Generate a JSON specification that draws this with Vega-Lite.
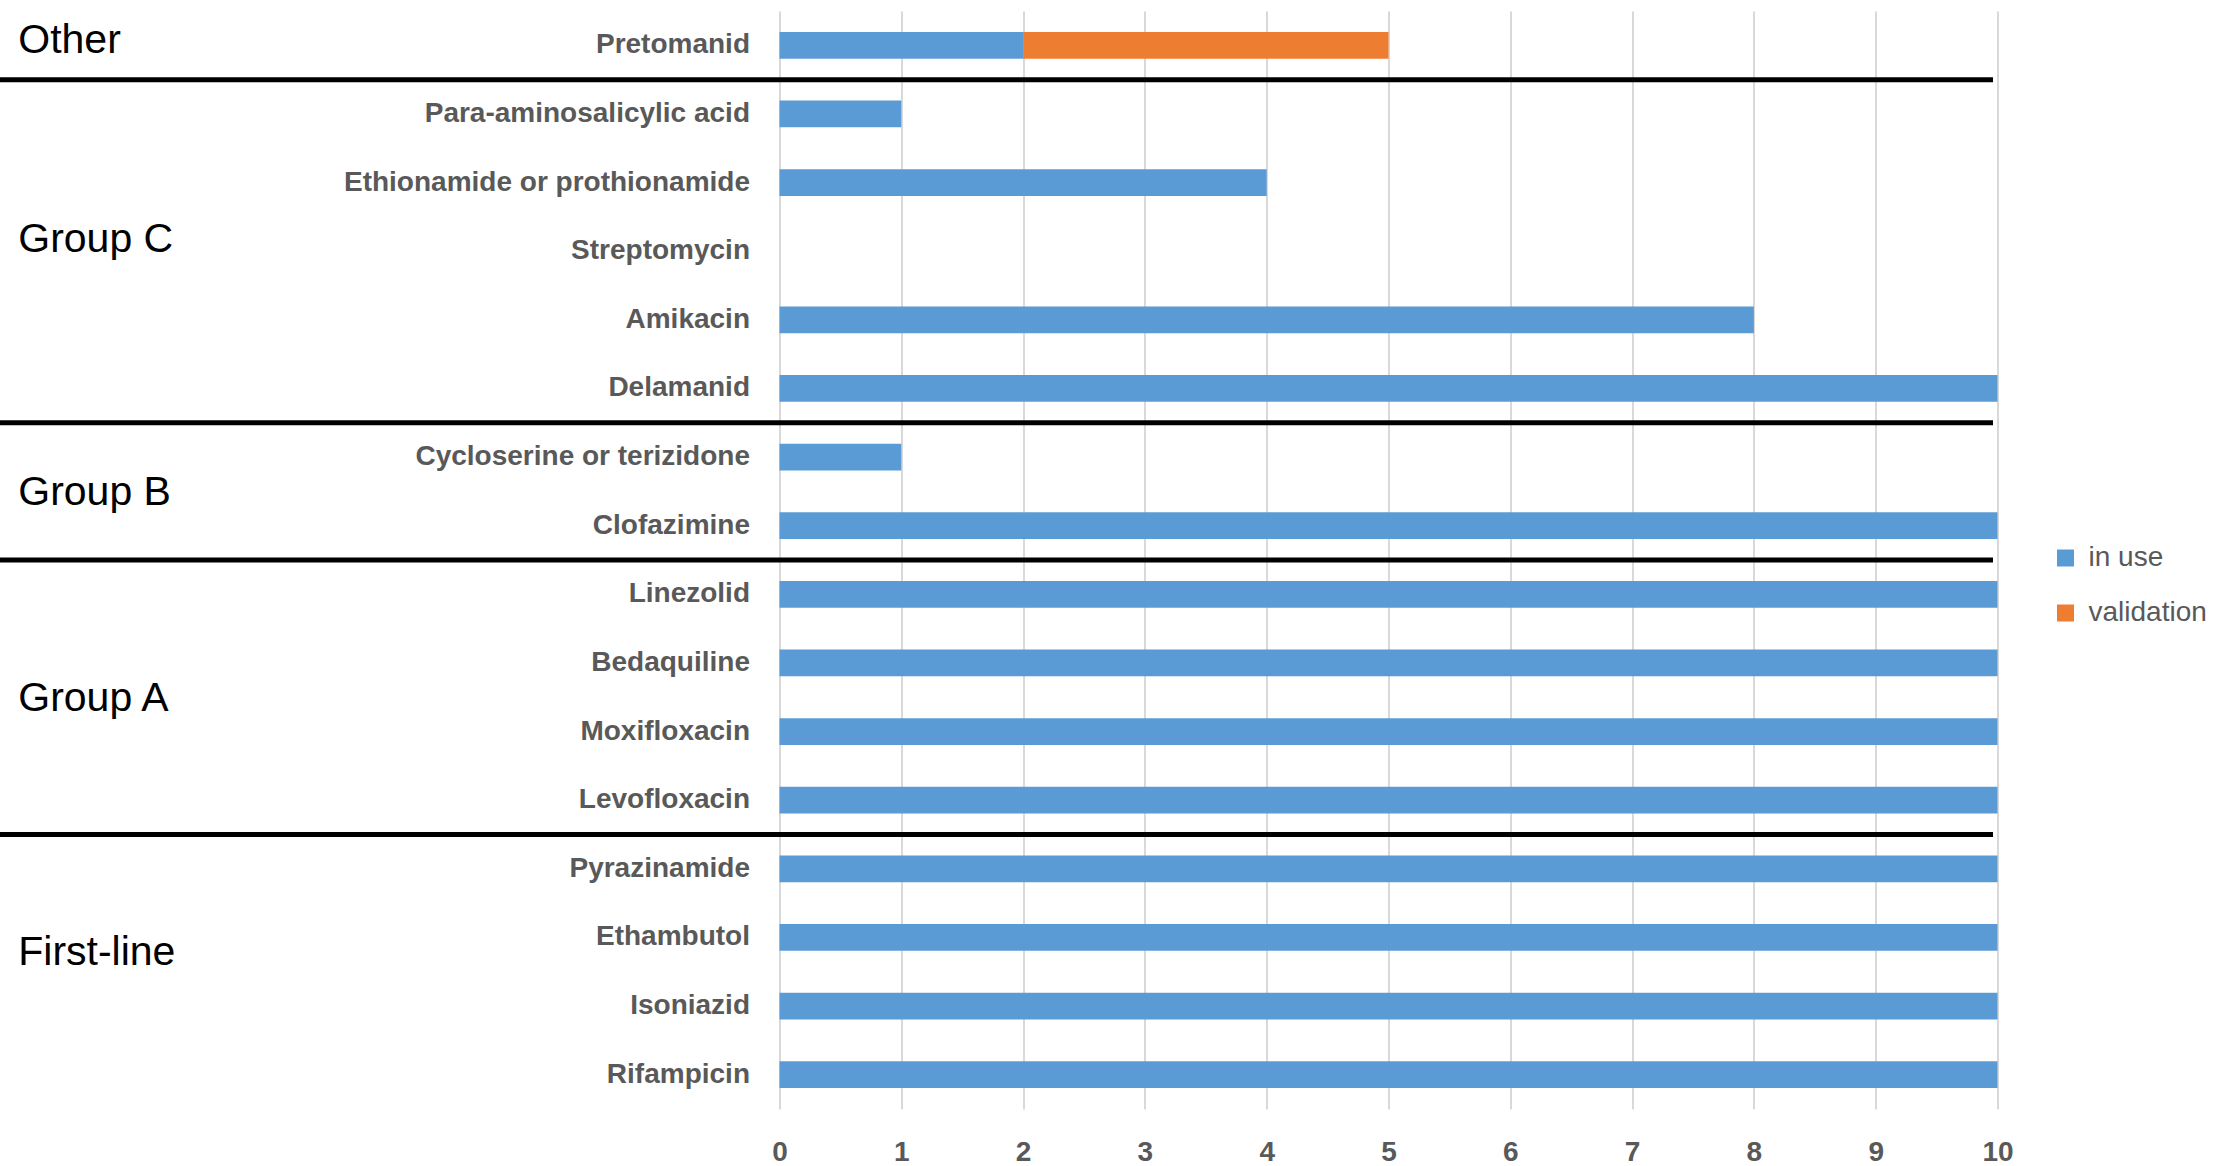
{
  "$schema": "https://vega.github.io/schema/vega-lite/v6.json",
  "width": 1218,
  "height": 1098,
  "autosize": {"type": "none"},
  "padding": {"left": 779.5, "top": 11, "right": 224.5, "bottom": 57},
  "background": "white",
  "config": {
    "view": {"stroke": null},
    "font": "Liberation Sans",
    "axisY": {"title": null, "domain": false, "ticks": false, "grid": false, "labelPadding": 30, "labelFontSize": 28, "labelFontWeight": "bold", "labelColor": "#595959", "labelLimit": 0},
    "axisX": {"title": null, "domain": false, "ticks": false, "grid": true, "gridColor": "#D9D9D9", "gridWidth": 2, "labelFontSize": 28, "labelFontWeight": "bold", "labelColor": "#595959", "labelPadding": 29, "labelFlush": false, "labelOverlap": false}
  },
  "datasets": {
    "bars": [
      {"drug": "Pretomanid", "status": "in use", "count": 2},
      {"drug": "Pretomanid", "status": "validation", "count": 3},
      {"drug": "Para-aminosalicylic acid", "status": "in use", "count": 1},
      {"drug": "Ethionamide or prothionamide", "status": "in use", "count": 4},
      {"drug": "Streptomycin", "status": "in use", "count": 0},
      {"drug": "Amikacin", "status": "in use", "count": 8},
      {"drug": "Delamanid", "status": "in use", "count": 10},
      {"drug": "Cycloserine or terizidone", "status": "in use", "count": 1},
      {"drug": "Clofazimine", "status": "in use", "count": 10},
      {"drug": "Linezolid", "status": "in use", "count": 10},
      {"drug": "Bedaquiline", "status": "in use", "count": 10},
      {"drug": "Moxifloxacin", "status": "in use", "count": 10},
      {"drug": "Levofloxacin", "status": "in use", "count": 10},
      {"drug": "Pyrazinamide", "status": "in use", "count": 10},
      {"drug": "Ethambutol", "status": "in use", "count": 10},
      {"drug": "Isoniazid", "status": "in use", "count": 10},
      {"drug": "Rifampicin", "status": "in use", "count": 10}
    ],
    "separators": [
      {"drug": "Para-aminosalicylic acid"},
      {"drug": "Cycloserine or terizidone"},
      {"drug": "Linezolid"},
      {"drug": "Pyrazinamide"}
    ],
    "groups": [
      {"group": "Other", "drug": "Pretomanid", "place": "a"},
      {"group": "Group C", "drug": "Streptomycin", "place": "b"},
      {"group": "Group B", "drug": "Clofazimine", "place": "c"},
      {"group": "Group A", "drug": "Moxifloxacin", "place": "c"},
      {"group": "First-line", "drug": "Ethambutol", "place": "d"}
    ]
  },
  "layer": [
    {
      "data": {"name": "bars"},
      "mark": {"type": "bar", "height": {"band": 0.39}},
      "encoding": {
        "y": {
          "field": "drug", "type": "nominal",
          "sort": ["Pretomanid","Para-aminosalicylic acid","Ethionamide or prothionamide","Streptomycin","Amikacin","Delamanid","Cycloserine or terizidone","Clofazimine","Linezolid","Bedaquiline","Moxifloxacin","Levofloxacin","Pyrazinamide","Ethambutol","Isoniazid","Rifampicin"],
          "scale": {"paddingInner": 0, "paddingOuter": 0},
          "title": null
        },
        "x": {
          "field": "count", "type": "quantitative", "stack": "zero",
          "scale": {"domain": [0, 10], "nice": false, "zero": false},
          "title": null,
          "axis": {"values": [0,1,2,3,4,5,6,7,8,9,10], "format": "d"}
        },
        "color": {
          "field": "status", "type": "nominal",
          "scale": {"domain": ["in use", "validation"], "range": ["#5B9BD5", "#ED7D31"]},
          "legend": {"title": null, "orient": "none", "legendX": 1272, "legendY": 533, "symbolType": "square", "symbolSize": 289, "symbolStrokeWidth": 0, "symbolOpacity": 1, "labelFontSize": 28, "labelColor": "#595959", "labelOffset": 9, "rowPadding": 27}
        }
      }
    },
    {
      "data": {"name": "separators"},
      "mark": {"type": "rule", "color": "black", "strokeWidth": 5, "clip": false},
      "encoding": {
        "y": {"field": "drug", "type": "nominal", "bandPosition": 0, "title": null, "sort": ["Pretomanid","Para-aminosalicylic acid","Ethionamide or prothionamide","Streptomycin","Amikacin","Delamanid","Cycloserine or terizidone","Clofazimine","Linezolid","Bedaquiline","Moxifloxacin","Levofloxacin","Pyrazinamide","Ethambutol","Isoniazid","Rifampicin"]},
        "x": {"datum": -6.4, "type": "quantitative", "title": null, "scale": {"domain": [0, 10], "nice": false, "zero": false}, "axis": {"values": [0,1,2,3,4,5,6,7,8,9,10], "format": "d"}},
        "x2": {"datum": 9.963}
      }
    },
    {
      "data": {"name": "groups"},
      "transform": [{"filter": "datum.place === 'a'"}],
      "mark": {"type": "text", "align": "left", "baseline": "middle", "fontSize": 41, "color": "black", "clip": false},
      "encoding": {
        "y": {"field": "drug", "type": "nominal", "bandPosition": 0.44, "title": null, "sort": ["Pretomanid","Para-aminosalicylic acid","Ethionamide or prothionamide","Streptomycin","Amikacin","Delamanid","Cycloserine or terizidone","Clofazimine","Linezolid","Bedaquiline","Moxifloxacin","Levofloxacin","Pyrazinamide","Ethambutol","Isoniazid","Rifampicin"]},
        "x": {"datum": -6.25, "type": "quantitative", "title": null, "scale": {"domain": [0, 10], "nice": false, "zero": false}, "axis": {"values": [0,1,2,3,4,5,6,7,8,9,10], "format": "d"}},
        "text": {"field": "group"}
      }
    },
    {
      "data": {"name": "groups"},
      "transform": [{"filter": "datum.place === 'b'"}],
      "mark": {"type": "text", "align": "left", "baseline": "middle", "fontSize": 41, "color": "black", "clip": false},
      "encoding": {
        "y": {"field": "drug", "type": "nominal", "bandPosition": 0.34, "title": null, "sort": ["Pretomanid","Para-aminosalicylic acid","Ethionamide or prothionamide","Streptomycin","Amikacin","Delamanid","Cycloserine or terizidone","Clofazimine","Linezolid","Bedaquiline","Moxifloxacin","Levofloxacin","Pyrazinamide","Ethambutol","Isoniazid","Rifampicin"]},
        "x": {"datum": -6.25, "type": "quantitative", "title": null, "scale": {"domain": [0, 10], "nice": false, "zero": false}, "axis": {"values": [0,1,2,3,4,5,6,7,8,9,10], "format": "d"}},
        "text": {"field": "group"}
      }
    },
    {
      "data": {"name": "groups"},
      "transform": [{"filter": "datum.place === 'c'"}],
      "mark": {"type": "text", "align": "left", "baseline": "middle", "fontSize": 41, "color": "black", "clip": false},
      "encoding": {
        "y": {"field": "drug", "type": "nominal", "bandPosition": 0.03, "title": null, "sort": ["Pretomanid","Para-aminosalicylic acid","Ethionamide or prothionamide","Streptomycin","Amikacin","Delamanid","Cycloserine or terizidone","Clofazimine","Linezolid","Bedaquiline","Moxifloxacin","Levofloxacin","Pyrazinamide","Ethambutol","Isoniazid","Rifampicin"]},
        "x": {"datum": -6.25, "type": "quantitative", "title": null, "scale": {"domain": [0, 10], "nice": false, "zero": false}, "axis": {"values": [0,1,2,3,4,5,6,7,8,9,10], "format": "d"}},
        "text": {"field": "group"}
      }
    },
    {
      "data": {"name": "groups"},
      "transform": [{"filter": "datum.place === 'd'"}],
      "mark": {"type": "text", "align": "left", "baseline": "middle", "fontSize": 41, "color": "black", "clip": false},
      "encoding": {
        "y": {"field": "drug", "type": "nominal", "bandPosition": 0.72, "title": null, "sort": ["Pretomanid","Para-aminosalicylic acid","Ethionamide or prothionamide","Streptomycin","Amikacin","Delamanid","Cycloserine or terizidone","Clofazimine","Linezolid","Bedaquiline","Moxifloxacin","Levofloxacin","Pyrazinamide","Ethambutol","Isoniazid","Rifampicin"]},
        "x": {"datum": -6.25, "type": "quantitative", "title": null, "scale": {"domain": [0, 10], "nice": false, "zero": false}, "axis": {"values": [0,1,2,3,4,5,6,7,8,9,10], "format": "d"}},
        "text": {"field": "group"}
      }
    }
  ]
}
